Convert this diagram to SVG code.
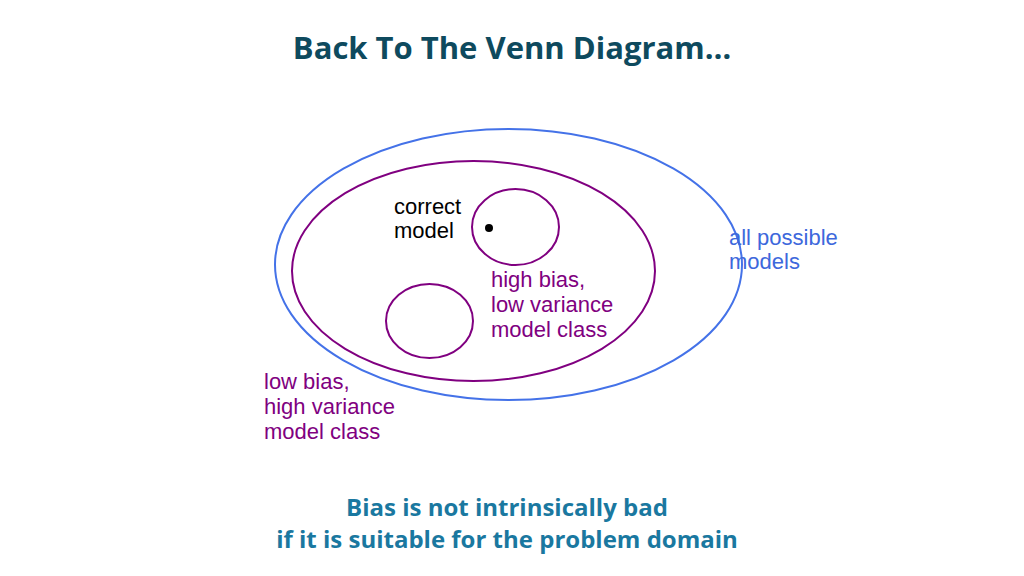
<svg xmlns="http://www.w3.org/2000/svg" width="1024" height="576" viewBox="0 0 1024 576">
<style>
.title{font-family:"Open Sans","Liberation Sans",sans-serif;font-weight:bold;font-size:31px;fill:#0e4a5e;text-anchor:middle}
.foot{font-family:"Open Sans","Liberation Sans",sans-serif;font-weight:bold;font-size:24px;fill:#1a78a0;text-anchor:middle}
.lbl{font-family:"Liberation Sans",Arial,sans-serif;font-size:22px}
.purple{fill:#800080}
.blue{fill:#3d68dc}
.black{fill:#000}
.pe{fill:none;stroke:#800080;stroke-width:2}
.be{fill:none;stroke:#4472e8;stroke-width:2}
</style>
<rect width="1024" height="576" fill="#fff"/>
<text class="title" x="512" y="59">Back To The Venn Diagram…</text>
<g id="all-models">
<ellipse class="be" cx="508.5" cy="264.5" rx="233.5" ry="135.5"/>
<text class="lbl blue" x="729" y="245">all possible</text>
<text class="lbl blue" x="729" y="269">models</text>
</g>
<g id="low-bias-class">
<ellipse class="pe" cx="473.5" cy="271" rx="181.5" ry="110"/>
<text class="lbl purple" x="264" y="389">low bias,</text>
<text class="lbl purple" x="264" y="414">high variance</text>
<text class="lbl purple" x="264" y="439">model class</text>
</g>
<g id="high-bias-class">
<ellipse class="pe" cx="515.5" cy="227" rx="43.5" ry="38"/>
<text class="lbl purple" x="491" y="287">high bias,</text>
<text class="lbl purple" x="491" y="312">low variance</text>
<text class="lbl purple" x="491" y="337">model class</text>
</g>
<g id="other-class">
<ellipse class="pe" cx="429.5" cy="321" rx="43.5" ry="37"/>
</g>
<g id="correct-model">
<circle cx="489" cy="228" r="4" fill="#000"/>
<text class="lbl black" x="394" y="214">correct</text>
<text class="lbl black" x="394" y="238">model</text>
</g>
<g id="connectors"></g>
<text class="foot" x="507" y="516">Bias is not intrinsically bad</text>
<text class="foot" x="507" y="548">if it is suitable for the problem domain</text>
</svg>
